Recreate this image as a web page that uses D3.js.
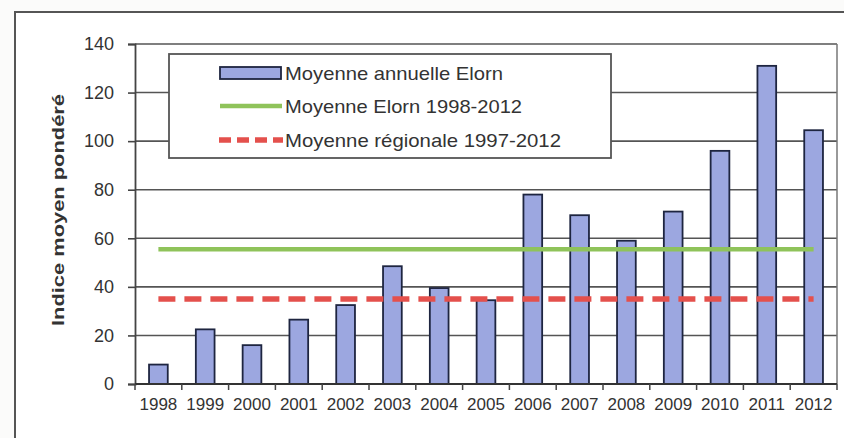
<!DOCTYPE html>
<html>
<head>
<meta charset="utf-8">
<script src="https://cdn.jsdelivr.net/npm/d3@7/dist/d3.min.js"></script>
<style>
html,body{margin:0;padding:0;background:#fbfbfa;}
svg{display:block;}
text{font-family:"Liberation Sans",Arial,sans-serif;fill:#333;}
</style>
</head>
<body>
<svg id="chart" width="844" height="438"></svg>
<script>
const years = ["1998","1999","2000","2001","2002","2003","2004","2005","2006","2007","2008","2009","2010","2011","2012"];
const annualMean = [8,22.5,16,26.5,32.5,48.5,39.5,34.5,78,69.5,59,71,96,131,104.5];
const elornMean = 55.5;
const regionalMean = 35;
const yTicks = [0,20,40,60,80,100,120,140];
const seriesNames = ["Moyenne annuelle Elorn","Moyenne Elorn 1998-2012","Moyenne régionale 1997-2012"];
const yTitle = "Indice moyen pondéré";

const svg = d3.select("#chart");
const W = 844, H = 438;
const m = {left:135, right:7, top:44, bottom:54};
const pw = W - m.left - m.right, ph = H - m.top - m.bottom;

// outer frame
svg.append("rect").attr("x",15).attr("y",12).attr("width",W+20).attr("height",H+20)
  .attr("fill","#fff").attr("stroke","#555").attr("stroke-width",2);

const g = svg.append("g").attr("transform",`translate(${m.left},${m.top})`);

const x = d3.scaleBand().domain(years).range([0,pw]).paddingInner(0.6).paddingOuter(0.3);
const xc = d3.scaleBand().domain(years).range([0,pw]);
const y = d3.scaleLinear().domain([0,140]).range([ph,0]);

// gridlines
g.append("g").selectAll("line").data(yTicks.filter(d=>d>0)).join("line")
  .attr("x1",0).attr("x2",pw).attr("y1",d=>y(d)).attr("y2",d=>y(d))
  .attr("stroke","#555").attr("stroke-width",1.6);
// right border
g.append("line").attr("x1",pw).attr("x2",pw).attr("y1",0).attr("y2",ph)
  .attr("stroke","#777").attr("stroke-width",1.5);

// bars
g.append("g").selectAll("rect").data(years).join("rect")
  .attr("x",d=>x(d)).attr("width",x.bandwidth())
  .attr("y",(d,i)=>y(annualMean[i])).attr("height",(d,i)=>y(0)-y(annualMean[i]))
  .attr("fill","#9ca7e0").attr("stroke","#1e2540").attr("stroke-width",1.8);

// lines
const x0 = xc(years[0]) + xc.bandwidth()/2;
const x1 = xc(years[years.length-1]) + xc.bandwidth()/2;
g.append("line").attr("x1",x0).attr("x2",x1).attr("y1",y(elornMean)).attr("y2",y(elornMean))
  .attr("stroke","#8fc35a").attr("stroke-width",4.5);
g.append("line").attr("x1",x0).attr("x2",x1).attr("y1",y(regionalMean)).attr("y2",y(regionalMean))
  .attr("stroke","#e4504c").attr("stroke-width",5.5).attr("stroke-dasharray","17,9");

// y axis
const ya = g.append("g").call(d3.axisLeft(y).tickValues(yTicks).tickSize(7).tickPadding(14));
ya.select(".domain").attr("stroke","#444").attr("stroke-width",1.8);
ya.selectAll(".tick line").attr("stroke","#444").attr("stroke-width",1.6);
ya.selectAll("text").style("font-size","18px").attr("fill","#333");

// x axis
const xa = g.append("g").attr("transform",`translate(0,${ph})`);
xa.append("line").attr("x1",0).attr("x2",pw).attr("stroke","#333").attr("stroke-width",2);
xa.selectAll("line.tk").data(d3.range(years.length+1)).join("line").attr("class","tk")
  .attr("x1",i=>i*xc.step()).attr("x2",i=>i*xc.step()).attr("y1",0).attr("y2",6)
  .attr("stroke","#444").attr("stroke-width",1.5);
xa.selectAll("text").data(years).join("text")
  .attr("x",d=>xc(d)+xc.bandwidth()/2).attr("y",26)
  .attr("text-anchor","middle").style("font-size","17px").text(d=>d);

// y title
svg.append("text").attr("transform",`translate(64,${m.top+ph/2-4}) rotate(-90)`)
  .attr("text-anchor","middle").style("font-size","17px").style("font-weight","bold")
  .attr("textLength",232).attr("lengthAdjust","spacingAndGlyphs")
  .attr("fill","#333").text(yTitle);

// legend
const lg = svg.append("g");
lg.append("rect").attr("x",169).attr("y",54).attr("width",442).attr("height",104)
  .attr("fill","#fff").attr("stroke","#555").attr("stroke-width",1.8);
const rows = [73,106,140];
const textLens = [218,237,276];
lg.append("rect").attr("x",220).attr("y",rows[0]-6).attr("width",61).attr("height",12)
  .attr("fill","#9ca7e0").attr("stroke","#1e2540").attr("stroke-width",1.8);
lg.append("line").attr("x1",220).attr("x2",282).attr("y1",rows[1]).attr("y2",rows[1])
  .attr("stroke","#8fc35a").attr("stroke-width",4.5);
lg.append("line").attr("x1",219).attr("x2",283).attr("y1",rows[2]).attr("y2",rows[2])
  .attr("stroke","#e4504c").attr("stroke-width",5.5).attr("stroke-dasharray","12,6");
lg.selectAll("text").data(seriesNames).join("text")
  .attr("x",285).attr("y",(d,i)=>rows[i]+7).style("font-size","19px")
  .attr("textLength",(d,i)=>textLens[i]).attr("lengthAdjust","spacingAndGlyphs")
  .text(d=>d);
</script>
</body>
</html>
